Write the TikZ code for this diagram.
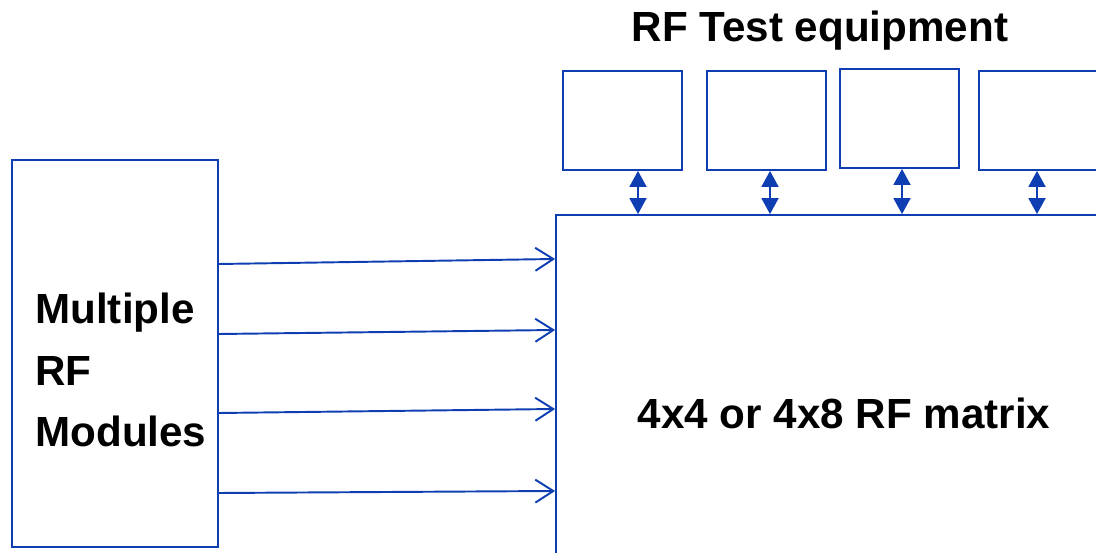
\documentclass[tikz,border=0pt]{standalone}
\usepackage{fontspec}
\setmainfont{Liberation Sans}
\usetikzlibrary{arrows.meta}
\definecolor{rfblue}{RGB}{14,62,178}
\begin{document}
\begin{tikzpicture}[x=0.02cm,y=-0.02cm]
            \tikzstyle{every node}+=[inner sep=0pt]
            \tikzstyle{box}=[draw=rfblue, line width=1.1pt, rectangle]
            \tikzstyle{feed}=[draw=rfblue, line width=1.1pt, -{Straight Barb[length=0.36cm,width=0.46cm]}]
            \tikzstyle{link}=[draw=rfblue, line width=1.1pt, {Triangle[length=0.32cm,width=0.34cm]}-{Triangle[length=0.32cm,width=0.34cm]}, fill=rfblue]
            \tikzstyle{label}=[font=\fontsize{24}{35}\selectfont\bfseries]
                \useasboundingbox (0,0) rectangle (1096,553);
                \clip (0,0) rectangle (1096,553);
                % modules and matrix
                \node [box, minimum width=4.12cm, minimum height=7.74cm] (mods) at (115,353.5) {};
                \node [box, minimum width=12.88cm, minimum height=9.7cm] (mat) at (878,457.5) {};
                \node [label, align=left, anchor=west] (modtext) at (35,370) {Multiple\\RF\\Modules};
                \node [label] (mattext) at (844,413) {4x4 or 4x8 RF matrix};
                % test equipment
                \node [label] (title) at (820,31) {RF Test equipment};
                \node [box, minimum width=2.38cm, minimum height=1.98cm] (eqa) at (622.5,120.5) {};
                \node [box, minimum width=2.38cm, minimum height=1.98cm] (eqb) at (766.5,120.5) {};
                \node [box, minimum width=2.38cm, minimum height=1.98cm] (eqc) at (899.5,118.5) {};
                \node [box, minimum width=2.38cm, minimum height=1.98cm] (eqd) at (1038.5,120.5) {};
                \draw [link] (eqa.south -| 638,0) -- (mat.north -| 638,0);
                \draw [link] (eqb.south -| 770,0) -- (mat.north -| 770,0);
                \draw [link] (eqc.south -| 902,0) -- (mat.north -| 902,0);
                \draw [link] (eqd.south -| 1037,0) -- (mat.north -| 1037,0);
                % module outputs
                \draw [feed] (mods.east |- 0,264) -- (mat.west |- 0,259);
                \draw [feed] (mods.east |- 0,334) -- (mat.west |- 0,330);
                \draw [feed] (mods.east |- 0,413) -- (mat.west |- 0,409);
                \draw [feed] (mods.east |- 0,493) -- (mat.west |- 0,491);
            \end{tikzpicture}
\end{document}
